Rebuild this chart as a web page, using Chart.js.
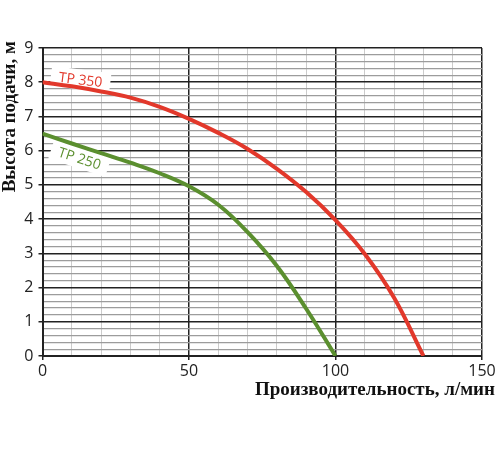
<!DOCTYPE html>
<html>
<head>
<meta charset="utf-8">
<script src="https://cdn.jsdelivr.net/npm/chart.js@4"></script>
<style>
  html, body { margin: 0; padding: 0; background: #fff; }
  #wrap { width: 500px; height: 450px; }
</style>
</head>
<body>
<div id="wrap"><canvas id="pumpChart" width="500" height="450"></canvas></div>
<script>
// flow, l/min and head, m
const flow350 = [0, 10, 20, 30, 40, 50, 60, 70, 80, 90, 100, 110, 120, 130];
const head350 = [8.0, 7.88, 7.73, 7.55, 7.28, 6.93, 6.52, 6.05, 5.47, 4.79, 3.97, 2.98, 1.7, 0];
const flow250 = [0, 10, 20, 30, 40, 50, 60, 70, 80, 90, 100];
const head250 = [6.5, 6.21, 5.93, 5.65, 5.34, 4.96, 4.42, 3.62, 2.63, 1.38, 0];

const seriesNames = ['TP 350', 'TP 250'];
const seriesColors = ['#e2382b', '#5b8f2f'];
// where the curve labels sit, in data units, and their tilt in degrees
const labelX = [13, 12.7];
const labelY = [8.08, 5.78];
const labelTilt = [7, 18];

const xTitle = 'Производительность, л/мин';
const yTitle = 'Высота подачи, м';

const toPoints = (xs, ys) => xs.map((x, i) => ({ x: x, y: ys[i] }));
const isWhole = (v, step) => Math.abs(v / step - Math.round(v / step)) < 1e-6;

// labels go under the curves, over the grid
const curveLabels = {
  id: 'curveLabels',
  beforeDatasetsDraw(chart) {
    const ctx = chart.ctx;
    const xs = chart.scales.x, ys = chart.scales.y;
    ctx.save();
    ctx.font = '14px "Open Sans", sans-serif';
    seriesNames.forEach((name, i) => {
      const px = xs.getPixelForValue(labelX[i]);
      const py = ys.getPixelForValue(labelY[i]);
      ctx.save();
      ctx.translate(px, py);
      ctx.rotate(labelTilt[i] * Math.PI / 180);
      const w = ctx.measureText(name).width + 16;
      ctx.fillStyle = '#fff';
      ctx.fillRect(-w / 2, -10, w, 20);
      ctx.fillStyle = seriesColors[i];
      ctx.textAlign = 'center';
      ctx.textBaseline = 'middle';
      ctx.fillText(name, 0, 1);
      ctx.restore();
    });
    ctx.restore();
  }
};

const axisTitles = {
  id: 'axisTitles',
  afterDraw(chart) {
    const ctx = chart.ctx;
    ctx.save();
    ctx.fillStyle = '#111';
    ctx.font = 'bold 19px "Liberation Serif", "Times New Roman", serif';
    ctx.textAlign = 'right';
    ctx.textBaseline = 'middle';
    ctx.fillText(xTitle, chart.width - 5, chart.chartArea.bottom + 34);
    ctx.translate(10, chart.chartArea.top - 7);
    ctx.rotate(-Math.PI / 2);
    ctx.fillText(yTitle, 0, 0);
    ctx.restore();
  }
};

new Chart(document.getElementById('pumpChart'), {
  type: 'line',
  data: {
    datasets: [
      {
        label: seriesNames[0],
        data: toPoints(flow350, head350),
        borderColor: seriesColors[0],
        borderWidth: 4,
        pointRadius: 0,
        tension: 0.4,
        fill: false
      },
      {
        label: seriesNames[1],
        data: toPoints(flow250, head250),
        borderColor: seriesColors[1],
        borderWidth: 4,
        pointRadius: 0,
        tension: 0.4,
        fill: false
      }
    ]
  },
  options: {
    responsive: false,
    animation: false,
    layout: { padding: { top: 48, right: 18, left: 0, bottom: 0 } },
    plugins: {
      legend: { display: false },
      tooltip: { enabled: false }
    },
    scales: {
      x: {
        type: 'linear',
        min: 0,
        max: 150,
        afterFit(scale) { scale.height = 94; },
        border: { color: '#222', width: 2 },
        grid: {
          color: (c) => isWhole(c.tick.value, 50) ? '#222' : '#cccccc',
          lineWidth: (c) => isWhole(c.tick.value, 50) ? 1.5 : 1,
          tickColor: (c) => isWhole(c.tick.value, 50) ? '#222' : 'rgba(0,0,0,0)',
          tickLength: 4
        },
        ticks: {
          stepSize: 10,
          autoSkip: false,
          maxRotation: 0,
          padding: 2,
          color: '#222',
          font: { family: '"Open Sans", sans-serif', size: 16 },
          callback: (v) => isWhole(v, 50) ? String(v) : ''
        }
      },
      y: {
        min: 0,
        max: 9,
        afterFit(scale) { scale.width = 42.5; },
        border: { color: '#222', width: 2 },
        grid: {
          color: (c) => isWhole(c.tick.value, 1) ? '#222' : '#9c9c9c',
          lineWidth: (c) => isWhole(c.tick.value, 1) ? 1.5 : 1.2,
          tickColor: (c) => isWhole(c.tick.value, 1) ? '#222' : 'rgba(0,0,0,0)',
          tickLength: 4
        },
        ticks: {
          stepSize: 0.2,
          autoSkip: false,
          padding: 5,
          color: '#222',
          font: { family: '"Open Sans", sans-serif', size: 16 },
          callback: (v) => isWhole(v, 1) ? String(Math.round(v)) : ''
        }
      }
    }
  },
  plugins: [curveLabels, axisTitles]
});
</script>
</body>
</html>
